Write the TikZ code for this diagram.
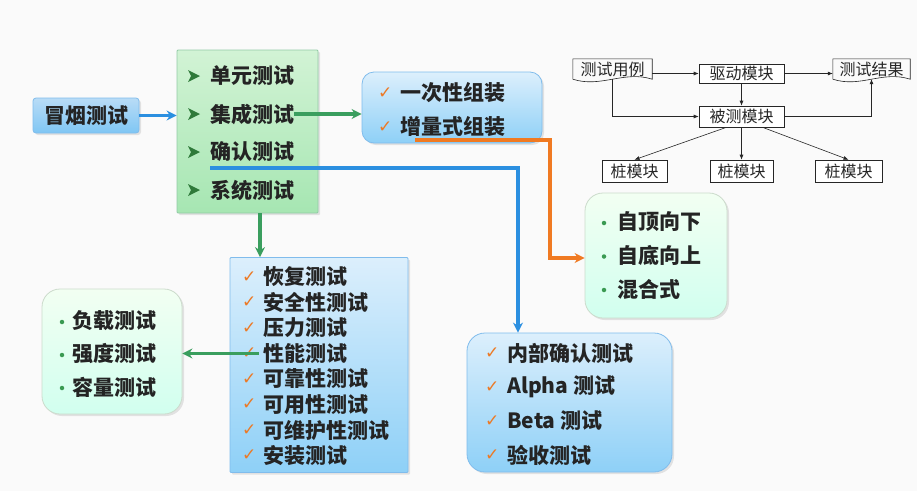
\documentclass[tikz,border=0pt]{standalone}
\usepackage{fontspec}
\setmainfont{Noto Sans CJK SC}
\newfontfamily\symfont{DejaVu Sans}
\usetikzlibrary{positioning}
\usetikzlibrary{calc}
\usetikzlibrary{arrows.meta}
\usetikzlibrary{shadows}

\definecolor{textdark}{HTML}{242424}
\definecolor{arrblue}{HTML}{2B8FE0}
\definecolor{arrgreen}{HTML}{3A9E5E}
\definecolor{arrorange}{HTML}{F07A22}
\definecolor{tickorange}{HTML}{EC7A26}
\definecolor{markgreen}{HTML}{2F7A3A}
\definecolor{dotgreen}{HTML}{3A9A52}
\definecolor{greentop}{HTML}{D2F3D5}
\definecolor{greenbot}{HTML}{A6E6B2}
\definecolor{bluetop}{HTML}{DCEFFC}
\definecolor{bluebot}{HTML}{8ED0F7}

\tikzset{
    softshadow/.style={drop shadow={opacity=0.2, shadow xshift=2pt, shadow yshift=-2pt}},
    bluebox/.style={draw=arrblue!60, line width=0.8pt, top color=bluetop, bottom color=bluebot, softshadow},
    greenbox/.style={draw=arrgreen!55, line width=0.8pt, top color=greentop, bottom color=greenbot, softshadow},
    mintbox/.style={draw=green!30!black!20, line width=0.8pt, top color=green!5!white, bottom color=green!35!cyan!18, rounded corners=18pt, softshadow},
    item/.style={anchor=west, inner sep=0pt, font=\bfseries\fontsize{21}{21}\selectfont, text=textdark},
    tickmark/.style={anchor=west, inner sep=0pt, font=\symfont\fontsize{17}{17}\selectfont, text=tickorange},
    bulletmark/.style={circle, fill=dotgreen, inner sep=0pt, minimum size=4.5pt},
    flowarrow/.style={line width=3.2pt, -{Stealth[length=10pt,width=10pt]}},
    modbox/.style={draw=black!85, line width=0.6pt, fill=white, inner sep=0pt, font=\fontsize{16}{16}\selectfont, text=black!85},
    docnode/.style={inner sep=0pt, font=\fontsize{16}{16}\selectfont, text=black!85},
    thinline/.style={draw=black!85, line width=0.6pt},
    thinarrow/.style={thinline, -{Latex[length=5pt,width=4pt]}}
}

\begin{document}
\begin{tikzpicture}[x=1pt, y=-1pt]
    \useasboundingbox (0,0) rectangle (917,491);
    \fill[white!98!black] (0,0) rectangle (917,491);

    % test levels
    \node[bluebox, rounded corners=3pt, minimum width=106, minimum height=35, item, anchor=center, inner sep=0pt,
          top color=bluetop!80!arrblue, bottom color=bluebot!85!arrblue] (smoke) at (86,115.5) {冒烟测试};
    \node[greenbox, rounded corners=1pt, minimum width=141, minimum height=163] (levels) at (247.5,131.5) {};
    \foreach \txt [count=\i] in {单元测试,集成测试,确认测试,系统测试}
        \node[item] (lv\i) at (210, 76+38*\i-38) {\txt};
    \foreach \i in {1,...,4}
        \fill[markgreen] ($(lv\i.west)+(-22,-6)$) -- ++(12,6) -- ++(-12,6) -- ++(3,-6) -- cycle;

    % integration
    \node[bluebox, rounded corners=12pt, minimum width=180, minimum height=71] (assembly) at (452,107.5) {};
    \foreach \txt [count=\i] in {一次性组装,增量式组装} {
        \node[item] (as\i) at (400, 93+34*\i-34) {\txt};
        \node[tickmark] at ($(as\i.west)+(-22,0)$) {✓};
    }

    \node[mintbox, minimum width=142, minimum height=125] (order) at (656,255.5) {};
    \foreach \txt [count=\i] in {自顶向下,自底向上,混合式} {
        \node[item] (od\i) at (617, 222+33.5*\i-33.5) {\txt};
        \node[bulletmark] at ($(od\i.west)+(-13,1)$) {};
    }

    % system tests
    \node[bluebox, rounded corners=1pt, minimum width=178, minimum height=215] (system) at (319,365) {};
    \foreach \txt [count=\i] in {恢复测试,安全性测试,压力测试,性能测试,可靠性测试,可用性测试,可维护性测试,安装测试} {
        \node[item] (st\i) at (263, 277+25.5*\i-25.5) {\txt};
        \node[tickmark] (ck\i) at ($(st\i.west)+(-21,0)$) {✓};
    }

    \node[mintbox, minimum width=140, minimum height=125] (perf) at (112,351.5) {};
    \foreach \txt [count=\i] in {负载测试,强度测试,容量测试} {
        \node[item] (pf\i) at (72, 321+33*\i-33) {\txt};
        \node[bulletmark] at ($(pf\i.west)+(-10,1)$) {};
    }

    % acceptance
    \node[bluebox, rounded corners=18pt, minimum width=205, minimum height=139] (accept) at (569.5,402.5) {};
    \foreach \txt [count=\i] in {内部确认测试,Alpha 测试,Beta 测试,验收测试} {
        \node[item] (ac\i) at (507, 353+34*\i-34) {\txt};
        \node[tickmark] at ($(ac\i.west)+(-22,0)$) {✓};
    }

    % connectors
    \draw[flowarrow, arrblue] (smoke.east) -- (levels.west |- smoke.east);
    \draw[flowarrow, arrgreen] (lv2.east) -- (assembly.west |- lv2.east);
    \coordinate (bturn) at (518,168);
    \draw[flowarrow, arrblue] (bturn -| lv3.west) -- (bturn) -- (bturn |- accept.north);
    \coordinate (gdown) at (260,0);
    \draw[flowarrow, arrgreen] (gdown |- levels.south) -- (gdown |- system.north);
    \draw[flowarrow, arrgreen] ($(ck4.east)+(2,0)$) -- (perf.east |- ck4.east);
    \coordinate (oturn) at (550,140);
    \draw[flowarrow, arrorange] (oturn -| 415,0) -- (oturn) |- (order.west |- 0,258);

    % test harness
    \node[docnode, minimum width=79, minimum height=20] (cases) at (612.5,69) {测试用例};
    \node[docnode, minimum width=77, minimum height=20] (result) at (871.5,69) {测试结果};
    \foreach \doc in {cases,result}
        \draw[thinline] (\doc.south west) -- (\doc.north west) -- (\doc.north east) -- (\doc.south east)
            .. controls +(-28,-9) and +(28,9) .. (\doc.south west);
    \node[modbox, minimum width=85, minimum height=19] (driver) at (741.5,73.5) {驱动模块};
    \node[modbox, minimum width=85, minimum height=21] (dut) at (741.5,116.5) {被测模块};
    \node[modbox, minimum width=65, minimum height=22] (stub1) at (634.5,171) {桩模块};
    \node[modbox, minimum width=63, minimum height=22] (stub2) at (741.5,171) {桩模块};
    \node[modbox, minimum width=67, minimum height=22] (stub3) at (848.5,171) {桩模块};

    \draw[thinarrow] (cases.east |- driver.west) -- (driver.west);
    \draw[thinarrow] (driver.east) -- (result.west |- driver.east);
    \draw[thinarrow] (driver.south) -- (dut.north);
    \draw[thinarrow] (cases.south) |- (dut.west);
    \draw[thinarrow] (dut.east) -| (result.south);
    \draw[thinarrow] ($(dut.south)+(-15,0)$) -- (stub1.north);
    \draw[thinarrow] (dut.south) -- (stub2.north);
    \draw[thinarrow] ($(dut.south)+(21,0)$) -- (stub3.north);
\end{tikzpicture}
\end{document}
